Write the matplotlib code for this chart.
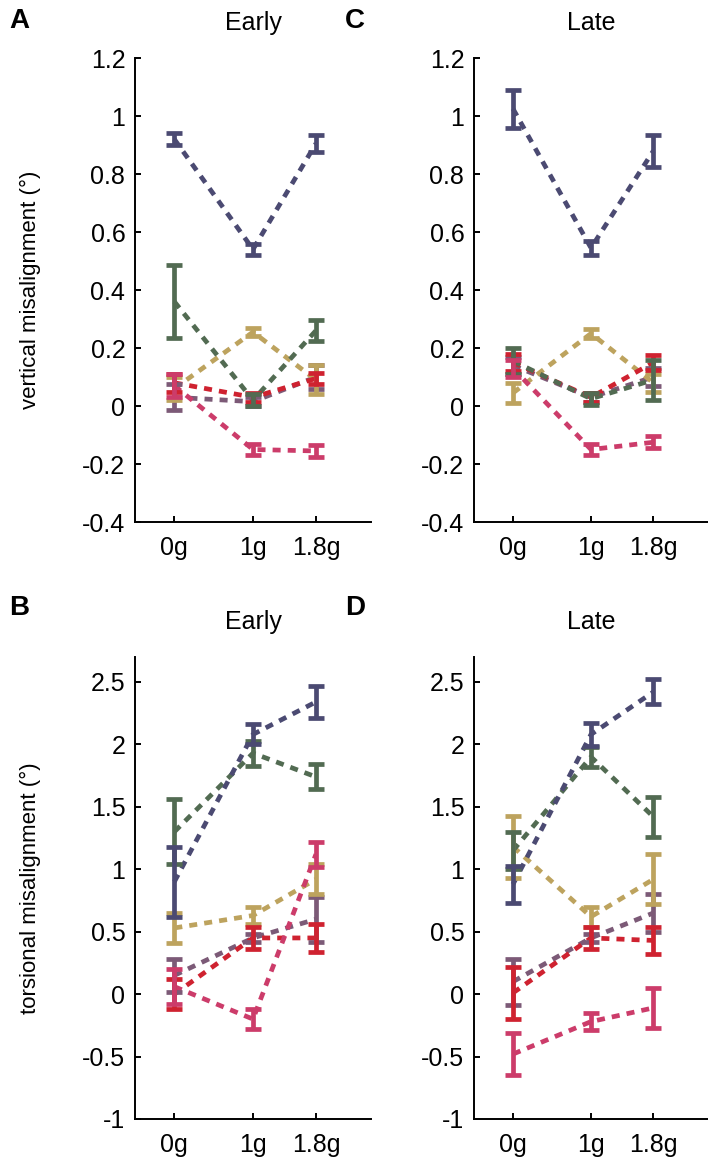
import numpy as np
import matplotlib
matplotlib.use('Agg')
import matplotlib.pyplot as plt

# x positions (gravity levels)
g_levels = [0, 1, 1.8]
g_labels = ['0g', '1g', '1.8g']

series_names = ['mauve', 'tan', 'red', 'green', 'navy', 'pink']
colors = {
    'navy': '#4b4a72',
    'green': '#526b52',
    'tan': '#bda35e',
    'red': '#cf2230',
    'pink': '#cc3c6a',
    'mauve': '#7c5a77',
}

# Panel A: vertical, early
vert_early_mean = {
    'navy': [0.92, 0.54, 0.905],
    'green': [0.36, 0.02, 0.26],
    'tan': [0.06, 0.255, 0.09],
    'red': [0.08, 0.03, 0.095],
    'pink': [0.07, -0.15, -0.155],
    'mauve': [0.03, 0.015, 0.10],
}
vert_early_err = {
    'navy': [0.02, 0.02, 0.03],
    'green': [0.125, 0.02, 0.035],
    'tan': [0.04, 0.015, 0.05],
    'red': [0.03, 0.015, 0.02],
    'pink': [0.04, 0.02, 0.02],
    'mauve': [0.045, 0.015, 0.04],
}

# Panel C: vertical, late
vert_late_mean = {
    'navy': [1.025, 0.545, 0.88],
    'green': [0.155, 0.025, 0.09],
    'tan': [0.045, 0.25, 0.08],
    'red': [0.15, 0.03, 0.15],
    'pink': [0.13, -0.15, -0.125],
    'mauve': [0.14, 0.03, 0.10],
}
vert_late_err = {
    'navy': [0.065, 0.025, 0.055],
    'green': [0.045, 0.02, 0.07],
    'tan': [0.035, 0.015, 0.03],
    'red': [0.03, 0.015, 0.025],
    'pink': [0.03, 0.02, 0.02],
    'mauve': [0.03, 0.015, 0.03],
}

# Panel B: torsional, early
tors_early_mean = {
    'navy': [0.90, 2.08, 2.34],
    'green': [1.30, 1.93, 1.74],
    'tan': [0.53, 0.63, 0.92],
    'red': [0.0, 0.45, 0.45],
    'pink': [0.06, -0.20, 1.12],
    'mauve': [0.15, 0.45, 0.60],
}
tors_early_err = {
    'navy': [0.28, 0.08, 0.13],
    'green': [0.26, 0.10, 0.10],
    'tan': [0.12, 0.07, 0.12],
    'red': [0.12, 0.09, 0.11],
    'pink': [0.14, 0.08, 0.10],
    'mauve': [0.13, 0.03, 0.18],
}

# Panel D: torsional, late
tors_late_mean = {
    'navy': [0.88, 2.08, 2.42],
    'green': [1.15, 1.90, 1.42],
    'tan': [1.18, 0.62, 0.92],
    'red': [0.01, 0.45, 0.43],
    'pink': [-0.48, -0.22, -0.11],
    'mauve': [0.10, 0.45, 0.65],
}
tors_late_err = {
    'navy': [0.15, 0.09, 0.10],
    'green': [0.15, 0.08, 0.16],
    'tan': [0.25, 0.08, 0.20],
    'red': [0.21, 0.09, 0.11],
    'pink': [0.17, 0.07, 0.16],
    'mauve': [0.185, 0.03, 0.15],
}

plt.rcParams['font.family'] = ['Liberation Sans', 'DejaVu Sans']

fig = plt.figure(figsize=(7.08, 11.69), dpi=100)

W, H = 708.0, 1169.0


def make_axes(left_px, top_px, bottom_px, width_px):
    return fig.add_axes([left_px / W, 1 - bottom_px / H,
                         width_px / W, (bottom_px - top_px) / H])


def draw_panel(ax, means, errs, ylim, yticks, yticklabels, title):
    for name in series_names:
        c = colors[name]
        ax.plot(g_levels, means[name], color=c, lw=3.4,
                dashes=(1.7, 1.5), dash_capstyle='butt', zorder=2)
        ax.errorbar(g_levels, means[name], yerr=errs[name], fmt='none',
                    ecolor=c, elinewidth=3.4, capsize=5.5, capthick=3.4,
                    zorder=3)
    ax.set_xlim(-0.5, 2.5)
    ax.set_ylim(*ylim)
    ax.set_xticks(g_levels)
    ax.set_xticklabels(g_labels)
    ax.set_yticks(yticks)
    ax.set_yticklabels(yticklabels)
    ax.spines['top'].set_visible(False)
    ax.spines['right'].set_visible(False)
    for s in ['left', 'bottom']:
        ax.spines[s].set_linewidth(1.4)
    ax.tick_params(direction='in', length=4, width=1.4, labelsize=18)
    ax.tick_params(axis='y', pad=7)
    ax.tick_params(axis='x', pad=10)
    ax.set_title(title, fontsize=18, pad=20)


v_ticks = [-0.4, -0.2, 0, 0.2, 0.4, 0.6, 0.8, 1, 1.2]
v_labels = ['-0.4', '-0.2', '0', '0.2', '0.4', '0.6', '0.8', '1', '1.2']
t_ticks = [-1, -0.5, 0, 0.5, 1, 1.5, 2, 2.5]
t_labels = ['-1', '-0.5', '0', '0.5', '1', '1.5', '2', '2.5']

axA = make_axes(135, 58, 522, 236)
axC = make_axes(474, 58, 522, 234)
axB = make_axes(135, 657, 1119, 236)
axD = make_axes(474, 657, 1119, 234)

draw_panel(axA, vert_early_mean, vert_early_err, (-0.4, 1.2), v_ticks, v_labels, 'Early')
draw_panel(axC, vert_late_mean, vert_late_err, (-0.4, 1.2), v_ticks, v_labels, 'Late')
draw_panel(axB, tors_early_mean, tors_early_err, (-1, 2.7), t_ticks, t_labels, 'Early')
draw_panel(axD, tors_late_mean, tors_late_err, (-1, 2.7), t_ticks, t_labels, 'Late')

fig.text(30 / W, 1 - 290 / H, 'vertical misalignment (°)', rotation=90,
         ha='center', va='center', fontsize=16)
fig.text(30 / W, 1 - 888 / H, 'torsional misalignment (°)', rotation=90,
         ha='center', va='center', fontsize=16)

for letter, xp, yp in [('A', 9, 8), ('C', 345, 8), ('B', 9, 595), ('D', 345, 595)]:
    fig.text(xp / W, 1 - yp / H, letter, fontsize=20, fontweight='bold',
             ha='left', va='top')

fig.savefig('out.png', dpi=100)
